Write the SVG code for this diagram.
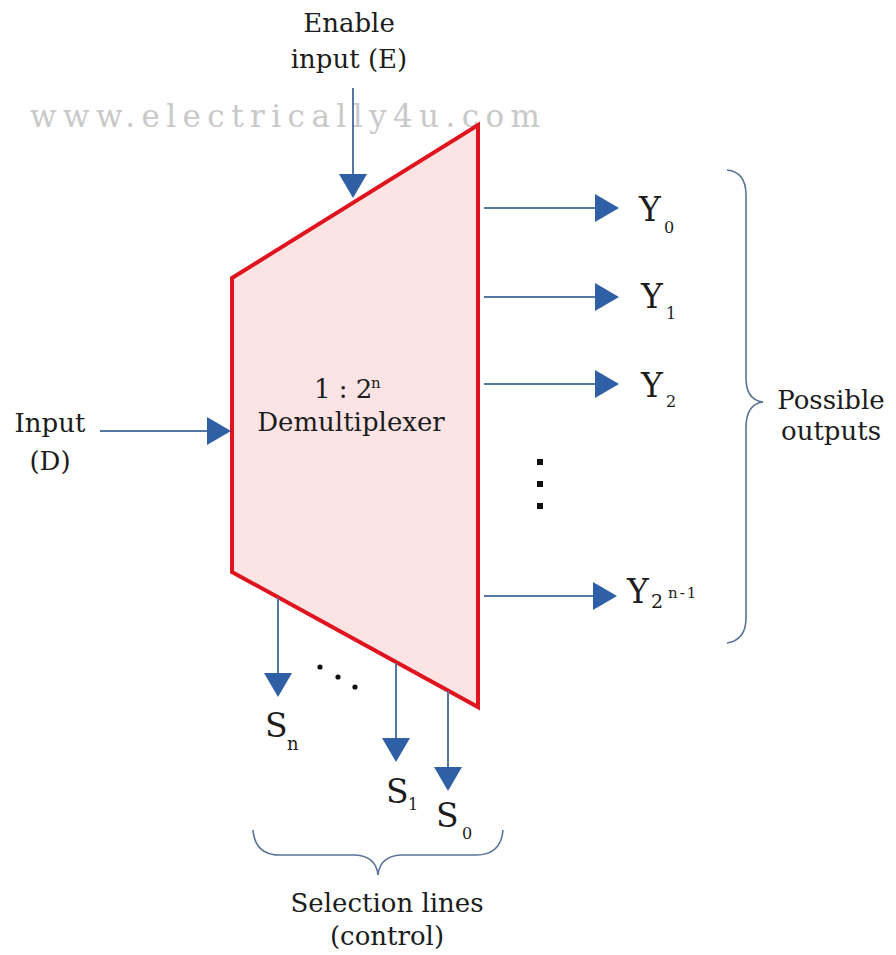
<svg xmlns="http://www.w3.org/2000/svg" width="896" height="955" viewBox="0 0 896 955">
<defs>
<style>
.t{font-family:"DejaVu Serif","Liberation Serif",serif;fill:#1c1c1c;font-size:26px}
.big{font-size:33px}
.sub{font-size:16px}
.wire{stroke:#5577a6;stroke-width:2;fill:none}
.brace{stroke:#5b7398;stroke-width:1.6;fill:none}
.dot{fill:#111}
</style>
<marker id="ah" viewBox="0 0 24 28" refX="14" refY="14" markerWidth="24" markerHeight="28" markerUnits="userSpaceOnUse" orient="auto">
<path d="M0,0 L24,14 L0,28 Z" fill="#2f60a6"/>
</marker>
</defs>
<rect width="896" height="955" fill="#fff"/>
<text x="30" y="127" font-family="DejaVu Serif,serif" font-size="31" fill="#c9c9c9" textLength="510" lengthAdjust="spacing">www.electrically4u.com</text>

<g id="demux">
<polygon points="232,278 478,125 478,707 232,572" fill="#fde4e4" stroke="#e0141e" stroke-width="4" stroke-linejoin="miter"/>
<text class="t" x="314" y="398">1 : 2</text><text class="t" x="371" y="388" style="font-size:15px">n</text>
<text class="t" x="351" y="431" text-anchor="middle">Demultiplexer</text>
</g>

<g id="connectors">
<line class="wire" x1="353" y1="88" x2="353" y2="188" marker-end="url(#ah)"/>
<line class="wire" x1="100" y1="431" x2="221" y2="431" marker-end="url(#ah)"/>
<line class="wire" x1="484" y1="208" x2="609" y2="208" marker-end="url(#ah)"/>
<line class="wire" x1="484" y1="297" x2="609" y2="297" marker-end="url(#ah)"/>
<line class="wire" x1="484" y1="384" x2="609" y2="384" marker-end="url(#ah)"/>
<line class="wire" x1="484" y1="596" x2="607" y2="596" marker-end="url(#ah)"/>
<line class="wire" x1="278" y1="598" x2="278" y2="687" marker-end="url(#ah)"/>
<line class="wire" x1="396" y1="663" x2="396" y2="752" marker-end="url(#ah)"/>
<line class="wire" x1="448" y1="691" x2="448" y2="781" marker-end="url(#ah)"/>
</g>

<g id="enable">
<text class="t" x="349" y="32" text-anchor="middle">Enable</text>
<text class="t" x="349" y="68" text-anchor="middle">input (E)</text>
</g>

<g id="input">
<text class="t" x="50" y="432" text-anchor="middle">Input</text>
<text class="t" x="50" y="470" text-anchor="middle">(D)</text>
</g>

<g id="y0"><text class="t big" x="639" y="221">Y</text><text class="t sub" x="664" y="233">0</text></g>
<g id="y1"><text class="t big" x="641" y="308">Y</text><text class="t sub" x="666" y="319">1</text></g>
<g id="y2"><text class="t big" x="641" y="397">Y</text><text class="t sub" x="666" y="407">2</text></g>
<g id="yn"><text class="t big" x="627" y="603">Y</text><text class="t" x="651" y="608" style="font-size:19px">2</text><text class="t" x="668" y="598" style="font-size:15px;letter-spacing:2px">n-1</text></g>

<g id="vdots">
<rect class="dot" x="537" y="459" width="6" height="6"/>
<rect class="dot" x="537" y="481" width="6" height="6"/>
<rect class="dot" x="537" y="503" width="6" height="6"/>
</g>

<g id="outputs-brace">
<path class="brace" d="M727,170 Q746,172 746,195 L746,378 Q746,400 763,402 Q746,404 746,428 L746,618 Q746,640 727,643"/>
<text class="t" x="831" y="409" text-anchor="middle">Possible</text>
<text class="t" x="831" y="440" text-anchor="middle">outputs</text>
</g>

<g id="sdots">
<circle class="dot" cx="320" cy="667" r="2.6"/>
<circle class="dot" cx="338" cy="677" r="2.6"/>
<circle class="dot" cx="355" cy="687" r="2.6"/>
</g>

<g id="sn"><text class="t big" x="265" y="737">S</text><text class="t" x="287" y="750" style="font-size:18px">n</text></g>
<g id="s1"><text class="t big" x="386" y="803">S</text><text class="t sub" x="408" y="810">1</text></g>
<g id="s0"><text class="t big" x="436" y="827">S</text><text class="t sub" x="462" y="839">0</text></g>

<g id="select-brace">
<path class="brace" d="M253,830 Q255,855 280,855 L355,855 Q376,856 378,875 Q380,856 401,855 L476,855 Q501,855 503,830"/>
<text class="t" x="387" y="912" text-anchor="middle">Selection lines</text>
<text class="t" x="387" y="945" text-anchor="middle">(control)</text>
</g>
</svg>
